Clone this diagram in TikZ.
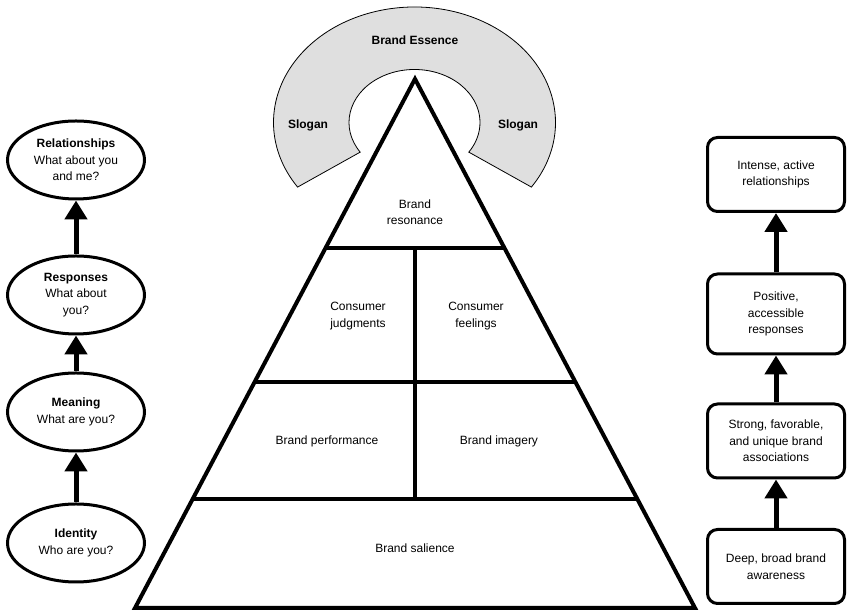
\documentclass[tikz,border=0pt]{standalone}
\usepackage{fontspec}
\setmainfont{Liberation Sans}
\usetikzlibrary{arrows.meta,calc,shapes.geometric,positioning}

\begin{document}
\begin{tikzpicture}[x=1pt,y=1pt,
  level/.style={line width=4pt},
  lbl/.style={align=center,font=\fontsize{12}{16.5}\selectfont},
  question/.style={ellipse,draw,line width=3pt,minimum width=137,minimum height=78,inner sep=0pt,align=center,font=\fontsize{12}{16.5}\selectfont},
  stagebox/.style={rectangle,rounded corners=10pt,draw,line width=3pt,minimum width=137,minimum height=74,align=center,font=\fontsize{12}{16.5}\selectfont},
  uparrow/.style={line width=5pt,-{Triangle[length=19pt,width=22pt]}}]
\useasboundingbox (0,0) rectangle (847,612);
% essence arc
\coordinate (arcc) at (414.5,489.5);
\draw[fill=gray!25,line width=0.8pt] ($(arcc)+(-34:141 and 115.5)$)
  arc[start angle=-34,end angle=214,x radius=141,y radius=115.5]
  -- ($(arcc)+(214:65.5 and 53)$)
  arc[start angle=214,end angle=-34,x radius=65.5,y radius=53] -- cycle;
\node[lbl,font=\fontsize{12}{16.5}\selectfont\bfseries] (essence) at (415,572) {Brand Essence};
\node[lbl,font=\fontsize{12}{16.5}\selectfont\bfseries] (sloganl) at (308,487) {Slogan};
\node[lbl,font=\fontsize{12}{16.5}\selectfont\bfseries] (sloganr) at (518,487) {Slogan};
% pyramid
\coordinate (apex) at (415,533);
\coordinate (bl) at (135,4);
\coordinate (br) at (695,4);
\draw[level,line join=miter] (apex) -- (bl) -- (br) -- cycle;
\foreach \t/\n in {0.3195/a,0.5728/b,0.794/c}{
  \draw[level] ($(apex)!\t!(bl)$) coordinate (l\n) -- ($(apex)!\t!(br)$) coordinate (r\n);
}
\draw[level] ($(la)!0.5!(ra)$) -- ($(lc)!0.5!(rc)$);
\node[lbl] (resonance) at (415,400) {Brand\\resonance};
\node[lbl] (judgments) at (358,296) {Consumer\\judgments};
\node[lbl] (feelings) at (476,296) {Consumer\\feelings};
\node[lbl] (performance) at (327,171) {Brand performance};
\node[lbl] (imagery) at (499,171) {Brand imagery};
\node[lbl] (salience) at (415,64) {Brand salience};
% questions
\node[question] (relationships) at (76,452) {\textbf{Relationships}\\What about you\\and me?};
\node[question] (responses) at (76,317) {\textbf{Responses}\\What about\\you?};
\node[question] (meaning) at (76,200) {\textbf{Meaning}\\What are you?};
\node[question] (identity) at (76,69) {\textbf{Identity}\\Who are you?};
\draw[uparrow] (identity) -- (meaning);
\draw[uparrow] (meaning) -- (responses);
\draw[uparrow] (responses) -- (relationships);
% stages
\node[stagebox] (intense) at (776,437.5) {Intense, active\\relationships};
\node[stagebox,minimum height=80] (positive) at (776,298) {Positive,\\accessible\\responses};
\node[stagebox] (strong) at (776,171) {Strong, favorable,\\and unique brand\\associations};
\node[stagebox] (deep) at (776,45.5) {Deep, broad brand\\awareness};
\draw[uparrow] (deep) -- (strong);
\draw[uparrow] (strong) -- (positive);
\draw[uparrow] (positive) -- (intense);
\end{tikzpicture}
\end{document}
